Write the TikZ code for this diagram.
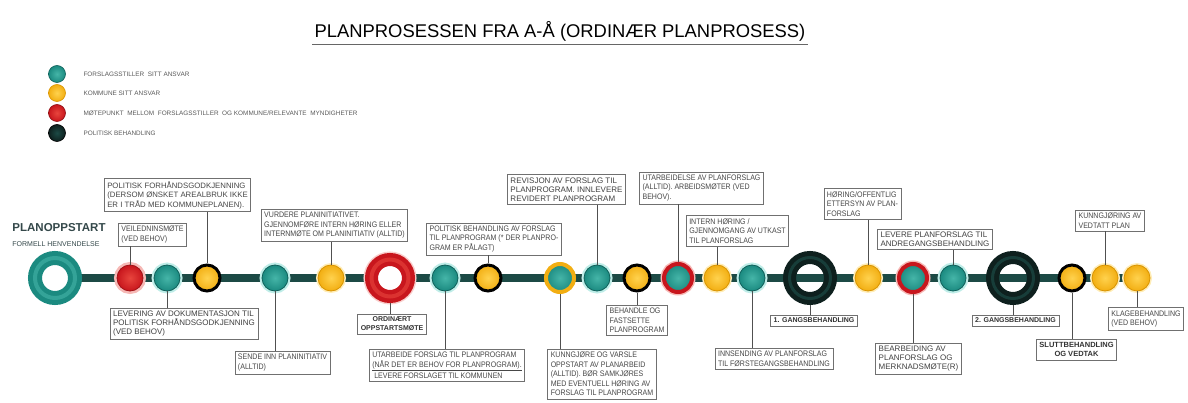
\documentclass[tikz,border=0pt]{standalone}
\usepackage{fontspec}
\setmainfont{Liberation Sans}
\newfontfamily\narrowfont[FakeStretch=0.88]{Liberation Sans}
\usetikzlibrary{backgrounds}
\definecolor{tealmain}{HTML}{1B8A80}
\definecolor{teallight}{HTML}{45B5A8}
\definecolor{tealdark}{HTML}{0F605A}
\definecolor{tealglow}{HTML}{BFEDE8}
\definecolor{yelmain}{HTML}{F2AE12}
\definecolor{yellight}{HTML}{FFD24E}
\definecolor{yeldark}{HTML}{D99400}
\definecolor{redmain}{HTML}{C8161D}
\definecolor{redlight}{HTML}{E8453D}
\definecolor{redglow}{HTML}{F6B9B6}
\definecolor{ringblack}{HTML}{0E201E}
\definecolor{trackcol}{HTML}{1C4A45}
\definecolor{boxgray}{HTML}{707070}
\definecolor{txtgray}{HTML}{474747}
\definecolor{leadgray}{HTML}{505050}
\definecolor{headgray}{HTML}{34484A}

\begin{document}
\begin{tikzpicture}[x=1pt, y=-1pt,
    box/.style={draw=boxgray, fill=white, line width=0.7pt, inner sep=3pt,
      align=left, text=txtgray, font=\narrowfont\fontsize{8}{9.5}\selectfont},
    widebox/.style={box, text=black!75, font=\fontsize{8}{9}\selectfont},
    boldbox/.style={box, align=center, text=black!80,
      font=\bfseries\fontsize{7}{9}\selectfont},
    lead/.style={draw=leadgray, line width=0.8pt},
    track/.style={draw=trackcol, line width=7pt},
    dot/.style={circle, inner sep=0pt, minimum size=26pt},
    tealdot/.style={dot, inner color=teallight, outer color=tealmain,
      draw=tealdark, line width=0.8pt,
      preaction={draw=tealglow, line width=5pt}},
    yeldot/.style={dot, inner color=yellight, outer color=yelmain,
      draw=yeldark, line width=0.8pt,
      preaction={draw=yellight!40, line width=4pt}},
    yelbdot/.style={dot, inner color=yellight, outer color=yelmain,
      draw=black, line width=3pt},
    reddot/.style={dot, inner color=redlight, outer color=redmain,
      draw=redmain!80!black, line width=0.8pt,
      preaction={draw=redglow, line width=6pt}},
    tealrdot/.style={dot, minimum size=28pt, inner color=teallight,
      outer color=tealmain, draw=redmain, line width=4pt,
      preaction={draw=redglow, line width=7pt}},
    tealydot/.style={dot, minimum size=28pt, inner color=teallight,
      outer color=tealmain, draw=yelmain, line width=4pt},
    ring/.style={circle, inner sep=0pt, minimum size=40pt, line width=14pt},
    legdot/.style={circle, inner sep=0pt, minimum size=17pt, line width=0.6pt},
    legtext/.style={anchor=west, text=black!65,
      font=\fontsize{6.4}{8}\selectfont}
  ]
  \useasboundingbox (0,0) rectangle (1188,403);

  % title
  \node[anchor=base, inner sep=2pt, font=\fontsize{18.4}{20}\selectfont]
    (title) at (560,38) {PLANPROSESSEN FRA A-Å (ORDINÆR PLANPROSESS)};
  \draw[black!60, line width=0.6pt] (title.south west) -- (title.south east);

  % legend
  \node[legdot, inner color=teallight, outer color=tealmain, draw=tealdark] (l1) at (57,74) {};
  \node[legdot, inner color=yellight, outer color=yelmain, draw=yeldark] (l2) at (57,93) {};
  \node[legdot, inner color=redlight, outer color=redmain, draw=redmain!70!black] (l3) at (57,113) {};
  \node[legdot, inner color=trackcol, outer color=ringblack, draw=black] (l4) at (57,133) {};
  \node[legtext] (lt1) at (80,74) {FORSLAGSSTILLER\ \ SITT ANSVAR};
  \node[legtext] (lt2) at (80,93) {KOMMUNE SITT ANSVAR};
  \node[legtext] (lt3) at (80,113) {MØTEPUNKT\ \ MELLOM\ \ FORSLAGSSTILLER\ \ OG KOMMUNE/RELEVANTE\ \ MYNDIGHETER};
  \node[legtext] (lt4) at (80,133) {POLITISK BEHANDLING};

  % start
  \node[anchor=base, inner sep=0pt, text=headgray, font=\bfseries\fontsize{11.5}{13}\selectfont]
    (start) at (59,232) {PLANOPPSTART};
  \node[anchor=base, inner sep=0pt, text=headgray, font=\fontsize{7}{8}\selectfont]
    (startsub) at (56,247) {FORMELL HENVENDELSE};

  % big rings
  \node[ring, draw=tealmain, fill=white,
    postaction={draw=teallight, line width=4pt, opacity=0.6}] (r0) at (55,278) {};
  \node[ring, minimum size=37pt, line width=13pt, draw=redmain, fill=white,
    preaction={draw=redglow!70, line width=16pt},
    postaction={draw=redlight, line width=4pt, opacity=0.6}] (r6) at (390,278) {};
  \node[ring, minimum size=41pt, line width=13pt, draw=ringblack,
    postaction={draw=trackcol, line width=3pt, opacity=0.7}] (r15) at (810,278) {};
  \node[ring, minimum size=41pt, line width=13pt, draw=ringblack,
    postaction={draw=trackcol, line width=3pt, opacity=0.7}] (r19) at (1013,278) {};

  % small dots
  \foreach \n/\x/\s in {d1/130/reddot, d2/167/tealdot, d3/207/yelbdot,
      d4/275/tealdot, d5/331/yeldot, d7/445/tealdot, d8/488/yelbdot,
      d9/560/tealydot, d10/597/tealdot, d11/637/yelbdot, d12/678/tealrdot,
      d13/717/yeldot, d14/752/tealdot, d16/868/yeldot, d17/913/tealrdot,
      d18/953/tealdot, d20/1072/yelbdot, d21/1105/yeldot, d22/1137/yeldot}
    \node[\s] (\n) at (\x,278) {};

  \begin{scope}[on background layer]
    \draw[track] (r0.center) -- (d22.center);
  \end{scope}

  % boxes above the track
  \node[box] (bveil) at (152.5,234.5) {VEILEDNINSMØTE\\(VED BEHOV)};
  \node[box, font=\fontsize{7.8}{9.5}\selectfont] (bpolf) at (177.5,195)
    {POLITISK FORHÅNDSGODKJENNING\\(DERSOM ØNSKET AREALBRUK IKKE\\ER I TRÅD MED KOMMUNEPLANEN).};
  \node[box] (bvurd) at (334.5,225.5)
    {VURDERE PLANINITIATIVET.\\GJENNOMFØRE INTERN HØRING ELLER\\INTERNMØTE OM PLANINITIATIV (ALLTID)};
  \node[box] (bpolb) at (494,239)
    {POLITISK BEHANDLING AV FORSLAG\\TIL PLANPROGRAM (* DER PLANPRO-\\GRAM ER PÅLAGT)};
  \node[widebox] (brev) at (566.5,189.5)
    {REVISJON AV FORSLAG TIL\\PLANPROGRAM. INNLEVERE\\REVIDERT PLANPROGRAM};
  \node[box] (butpf) at (701.5,188)
    {UTARBEIDELSE AV PLANFORSLAG\\(ALLTID). ARBEIDSMØTER (VED\\BEHOV).};
  \node[box] (bint) at (737.5,231)
    {INTERN HØRING /\\GJENNOMGANG AV UTKAST\\TIL PLANFORSLAG};
  \node[box] (bhor) at (862.5,204)
    {HØRING/OFFENTLIG\\ETTERSYN AV PLAN-\\FORSLAG};
  \node[widebox] (blev2) at (935,239.5)
    {LEVERE PLANFORSLAG TIL\\ANDREGANGSBEHANDLING};
  \node[box] (bkunv) at (1110,220.5) {KUNNGJØRING AV\\VEDTATT PLAN};

  % boxes below the track
  \node[widebox] (blevd) at (184,323.5)
    {LEVERING AV DOKUMENTASJON TIL\\POLITISK FORHÅNDSGODKJENNING\\(VED BEHOV)};
  \node[box] (bsend) at (282.5,362.5) {SENDE INN PLANINITIATIV\\(ALLTID)};
  \node[boldbox] (bord) at (392,324) {ORDINÆRT\\OPPSTARTSMØTE};
  \node[box] (butpp) at (447,365)
    {UTARBEIDE FORSLAG TIL PLANPROGRAM\\\underline{(NÅR DET ER BEHOV FOR PLANPROGRAM).}\\[1.5pt]\ LEVERE FORSLAGET TIL KOMMUNEN};
  \node[box] (bkunn) at (602,374)
    {KUNNGJØRE OG VARSLE\\OPPSTART AV PLANARBEID\\(ALLTID). BØR SAMKJØRES\\MED EVENTUELL HØRING AV\\FORSLAG TIL PLANPROGRAM};
  \node[box] (bbeh) at (637,320.5) {BEHANDLE OG\\FASTSETTE\\PLANPROGRAM};
  \node[box] (binns) at (774,359)
    {INNSENDING AV PLANFORSLAG\\TIL FØRSTEGANGSBEHANDLING};
  \node[boldbox] (bg1) at (814,320.5) {1. GANGSBEHANDLING};
  \node[widebox] (bbear) at (918.5,358.5)
    {BEARBEIDING AV\\PLANFORSLAG OG\\MERKNADSMØTE(R)};
  \node[boldbox] (bg2) at (1015.5,320.5) {2. GANGSBEHANDLING};
  \node[boldbox, font=\bfseries\fontsize{7.5}{9.5}\selectfont] (bslutt) at (1076.5,349.5)
    {SLUTTBEHANDLING\\OG VEDTAK};
  \node[box] (bklag) at (1146,319) {KLAGEBEHANDLING\\(VED BEHOV)};

  % leads up
  \foreach \d/\b in {d1/bveil, d3/bpolf, d5/bvurd, d8/bpolb, d10/brev,
      d12/butpf, d13/bint, d16/bhor, d18/blev2, d21/bkunv}
    \draw[lead] (\d.north) -- (\d.north |- \b.south);
  % leads down
  \foreach \d/\b in {d2/blevd, d4/bsend, r6/bord, d7/butpp, d9/bkunn,
      d11/bbeh, d14/binns, r15/bg1, d17/bbear, r19/bg2, d20/bslutt, d22/bklag}
    \draw[lead] (\d.south) -- (\d.south |- \b.north);
\end{tikzpicture}
\end{document}
